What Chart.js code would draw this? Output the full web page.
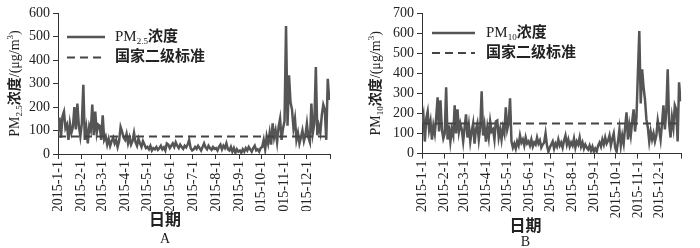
<!DOCTYPE html>
<html>
<head>
<meta charset="utf-8">
<script src="https://cdn.jsdelivr.net/npm/chart.js@4"></script>
<style>
body { margin: 0; background: #fff; }
.panel { position: absolute; top: 0; }
</style>
</head>
<body>
<div class="panel" style="left:0"><canvas id="chartA" width="354" height="248"></canvas></div>
<div class="panel" style="left:362px"><canvas id="chartB" width="338" height="248"></canvas></div>
<script>
// x axis: day of year where each month starts (last one closes the year)
const monthStarts = [0, 31, 59, 90, 120, 151, 181, 212, 243, 273, 304, 334, 365];
const monthLabels = ["2015-1-1", "2015-2-1", "2015-3-1", "2015-4-1", "2015-5-1", "2015-6-1",
	"2015-7-1", "2015-8-1", "2015-9-1", "2015-10-1", "2015-11-1", "2015-12-1"];
const sampleStep = 2; // one reading every 2 days

// PM2.5 (one row per month)
const pm25 = [
	95, 155, 70, 160, 180, 110, 125, 60, 130, 90, 115, 200, 105, 215, 120, 75,
	130, 295, 60, 110, 45, 120, 100, 210, 80, 180, 90, 125, 120, 60,
	165, 60, 75, 40, 65, 35, 55, 70, 45, 60, 30, 55, 115, 95, 70,
	60, 85, 45, 70, 40, 55, 90, 50, 35, 65, 45, 30, 55, 40, 25,
	30, 20, 35, 15, 25, 20, 30, 18, 25, 35, 20, 28, 15, 45, 40, 25,
	35, 45, 30, 50, 35, 25, 40, 30, 22, 35, 28, 40, 60, 25, 15,
	20, 30, 22, 35, 25, 15, 30, 45, 28, 20, 35, 25, 18, 30, 22,
	25, 15, 30, 40, 20, 35, 25, 45, 20, 15, 30, 10, 25, 5, 20, 10,
	15, 5, 20, 10, 25, 15, 30, 20, 10, 25, 35, 15, 20, 10, 25,
	30, 60, 20, 75, 45, 90, 40, 130, 70, 100, 50, 115, 150, 60, 110,
	140, 545, 120, 335, 220, 190, 110, 150, 60, 90, 45, 70, 100, 55, 80,
	130, 70, 50, 215, 90, 130, 370, 80, 120, 90, 165, 210, 190, 60, 320, 230,
];

// PM10
const pm10 = [
	150, 190, 60, 175, 210, 120, 160, 70, 140, 100, 180, 280, 110, 265, 120, 75,
	100, 330, 70, 140, 60, 120, 90, 240, 100, 220, 110, 150, 120, 60,
	130, 195, 80, 140, 60, 110, 150, 50, 120, 150, 70, 130, 310, 90, 140,
	60, 130, 80, 160, 110, 120, 70, 160, 165, 80, 120, 70, 130, 100, 230,
	120, 150, 275, 60, 30, 50, 25, 60, 40, 90, 55, 70, 40, 80, 50, 60,
	40, 70, 35, 55, 45, 80, 50, 65, 30, 45, 55, 100, 40, 10, 30,
	45, 60, 25, 50, 35, 70, 40, 55, 30, 65, 90, 45, 70, 35, 55,
	40, 75, 30, 60, 45, 80, 35, 55, 25, 45, 30, 20, 40, 15, 35, 10,
	25, 10, 40, 55, 35, 70, 45, 80, 50, 65, 90, 40, 75, 100, 30,
	10, 60, 120, 40, 90, 50, 130, 205, 70, 140, 90, 160, 220, 110, 180,
	400, 610, 250, 420, 330, 270, 170, 130, 60, 110, 70, 100, 60, 90, 165,
	120, 70, 150, 240, 120, 210, 420, 150, 80, 180, 130, 240, 220, 60, 355, 260,
];

const pm25Standard = 75;
const pm10Standard = 150;

const serif = "'Liberation Serif', 'Times New Roman', 'Noto Sans CJK SC', serif";
const textColor = "#222";
const lineColor = "#555";
const axisColor = "#333";

// texto com subscrito/sobrescrito: [texto, modo(0 normal,1 sub,2 sup), negrito]
function drawRich(ctx, parts, x, y, size, align) {
	const fontFor = (p) => (p[2] ? "bold " : "") + (p[1] ? Math.round(size * 0.62) : size) + "px " + serif;
	let w = 0;
	parts.forEach((p) => { ctx.font = fontFor(p); w += ctx.measureText(p[0]).width; });
	let cx = align === "center" ? x - w / 2 : x;
	ctx.textAlign = "left";
	parts.forEach((p) => {
		ctx.font = fontFor(p);
		const dy = p[1] === 1 ? size * 0.32 : p[1] === 2 ? -size * 0.32 : 0;
		ctx.fillText(p[0], cx, y + dy);
		cx += ctx.measureText(p[0]).width;
	});
}

// legenda dentro da área do gráfico + título do eixo y
const decor = {
	id: "decor",
	afterDraw(chart, args, o) {
		const { ctx, chartArea } = chart;
		ctx.save();
		ctx.fillStyle = textColor;
		ctx.textBaseline = "middle";
		chart.data.datasets.forEach((ds, i) => {
			const y = chartArea.top + o.legendTop + i * o.legendGap;
			const x = chartArea.left + o.legendLeft;
			ctx.strokeStyle = ds.borderColor;
			ctx.lineWidth = ds.borderWidth;
			ctx.setLineDash(ds.borderDash || []);
			ctx.beginPath();
			ctx.moveTo(x, y);
			ctx.lineTo(x + o.sampleLen, y);
			ctx.stroke();
			drawRich(ctx, o.legend[i], x + o.sampleLen + o.textGap, y, 15, "left");
		});
		ctx.translate(o.titleX, (chartArea.top + chartArea.bottom) / 2);
		ctx.rotate(-Math.PI / 2);
		drawRich(ctx, o.yTitle, 0, 0, 14, "center");
		ctx.restore();
	},
};

function makeChart(id, values, standard, yMax, o) {
	return new Chart(document.getElementById(id), {
		type: "line",
		data: {
			datasets: [
				{
					label: o.name,
					data: values.map((v, i) => ({ x: i * sampleStep, y: v })),
					borderColor: lineColor,
					borderWidth: 2.5,
					pointRadius: 0,
					tension: 0,
					order: 1,
				},
				{
					label: "国家二级标准",
					data: [{ x: 0, y: standard }, { x: 365, y: standard }],
					borderColor: "#444",
					borderWidth: 2,
					borderDash: [8, 5],
					pointRadius: 0,
					order: 0,
				},
			],
		},
		options: {
			responsive: false,
			animation: false,
			layout: { padding: { top: 13, right: o.padRight, bottom: 0, left: 0 } },
			plugins: {
				legend: { display: false },
				tooltip: { enabled: false },
				subtitle: {
					display: true,
					position: "bottom",
					text: "日期",
					color: textColor,
					font: { family: serif, size: 16, weight: "bold" },
					padding: { top: 0, bottom: 0 },
				},
				title: {
					display: true,
					position: "bottom",
					text: o.letter,
					color: textColor,
					font: { family: serif, size: 14, weight: "normal", lineHeight: o.letterLH },
					padding: { top: o.letterPad, bottom: 0 },
				},
				decor: o.decor,
			},
			scales: {
				x: {
					type: "linear",
					min: 0,
					max: 365,
					afterBuildTicks: (s) => { s.ticks = monthStarts.map((v) => ({ value: v })); },
					afterFit: (s) => { s.height = o.xHeight; },
					ticks: {
						autoSkip: false,
						minRotation: 90,
						maxRotation: 90,
						padding: 2,
						color: textColor,
						font: { family: serif, size: 14 },
						callback: (v, i) => monthLabels[i] || "",
					},
					grid: { drawOnChartArea: false, tickLength: 5, color: axisColor },
					border: { color: axisColor },
				},
				y: {
					min: 0,
					max: yMax,
					afterFit: (s) => { s.width = o.yWidth; },
					ticks: { stepSize: 100, padding: 3, color: textColor, font: { family: serif, size: 14 } },
					grid: { drawOnChartArea: false, tickLength: 5, color: axisColor },
					border: { color: axisColor },
				},
			},
		},
		plugins: [decor],
	});
}

makeChart("chartA", pm25, pm25Standard, 600, {
	name: "PM2.5浓度",
	letter: "A",
	letterLH: 1.2,
	letterPad: 1,
	padRight: 24,
	xHeight: 57,
	yWidth: 58,
	decor: {
		legendLeft: 9, sampleLen: 38, textGap: 10, legendTop: 24, legendGap: 20.5, titleX: 15,
		legend: [[["PM", 0], ["2.5", 1], ["浓度", 0, 1]], [["国家二级标准", 0, 1]]],
		yTitle: [["PM", 0], ["2.5", 1], ["浓度", 0, 1], ["/(μg/m", 0], ["3", 2], [")", 0]],
	},
});

makeChart("chartB", pm10, pm10Standard, 700, {
	name: "PM10浓度",
	letter: "B",
	letterLH: 0.8,
	letterPad: 0,
	padRight: 11,
	xHeight: 64,
	yWidth: 60,
	decor: {
		legendLeft: 10, sampleLen: 43, textGap: 11, legendTop: 20, legendGap: 20, titleX: 14,
		legend: [[["PM", 0], ["10", 1], ["浓度", 0, 1]], [["国家二级标准", 0, 1]]],
		yTitle: [["PM", 0], ["10", 1], ["浓度", 0, 1], ["/(μg/m", 0], ["3", 2], [")", 0]],
	},
});
</script>
</body>
</html>
